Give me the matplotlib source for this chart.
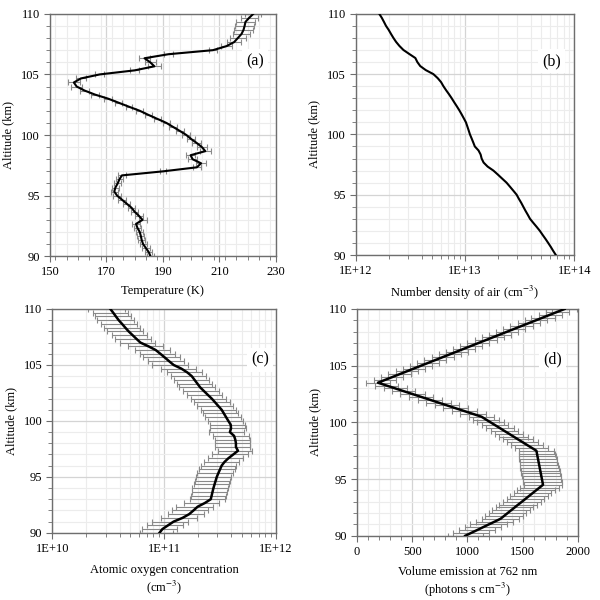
import numpy as np
import matplotlib
matplotlib.use('Agg')
import matplotlib.pyplot as plt
from matplotlib.ticker import MultipleLocator, LogLocator, FuncFormatter, NullFormatter

plt.rcParams['font.family'] = ['Liberation Serif', 'DejaVu Serif']
plt.rcParams['mathtext.fontset'] = 'stix'

# altitude grids (km)
alt = np.linspace(90, 110, 61)        # panels a, b, c
alt_d = np.linspace(90, 110, 81)      # panel d

# (a) temperature (K) and error
temp = [185.6, 185.0, 184.0, 183.0, 182.5, 182.2, 181.8, 181.0, 180.5, 182.8,
        181.5, 180.0, 178.9, 177.2, 175.5, 173.8, 172.8, 173.2, 174.0, 174.6,
        175.5, 190.0, 202.0, 203.5, 200.5, 199.8, 205.0, 203.8, 202.0, 200.0,
        198.3, 196.0, 193.6, 191.2, 188.0, 184.8, 181.8, 178.0, 174.3, 170.6,
        166.0, 162.3, 159.5, 158.5, 161.0, 167.7, 180.0, 187.0, 185.5, 183.5,
        192.0, 207.7, 212.5, 215.2, 216.5, 217.8, 218.5, 218.9, 219.2, 220.5,
        222.0]
temp_err = [1.2, 1.2, 1.3, 1.2, 1.3, 1.2, 1.3, 1.2, 1.3, 1.4,
            1.3, 1.2, 1.3, 1.2, 1.3, 1.4, 1.3, 1.2, 1.3, 1.2,
            1.3, 1.2, 1.5, 1.8, 1.6, 1.7, 1.9, 1.8, 1.6, 1.5,
            1.4, 1.3, 1.3, 1.2, 1.3, 1.2, 1.3, 1.2, 1.3, 1.4,
            1.5, 1.6, 2.0, 2.2, 1.9, 1.6, 1.5, 2.2, 2.0, 1.8,
            1.5, 1.4, 1.8, 2.4, 2.8, 3.0, 3.2, 3.3, 3.2, 3.0,
            2.8]

# (b) number density of air (1E+12 cm^-3)
n_air = [67.9, 64.3, 61.1, 57.8, 54.6, 51.4, 48.5, 45.3, 42.2, 39.4,
         37.6, 35.8, 34.2, 32.7, 31.1, 29.7, 27.7, 25.8, 24.0, 21.9,
         20.0, 18.2, 16.1, 14.8, 14.2, 13.9, 13.3, 12.3, 11.9, 11.5,
         11.1, 10.8, 10.5, 10.2, 9.75, 9.31, 8.87, 8.41, 7.96, 7.55,
         7.13, 6.71, 6.34, 6.04, 5.62, 5.13, 4.37, 3.89, 3.66, 3.51,
         3.09, 2.73, 2.51, 2.34, 2.21, 2.10, 2.00, 1.89, 1.81, 1.73,
         1.64]

# (c) atomic oxygen (1E+11 cm^-3) and error
o_conc = [0.910, 0.966, 1.084, 1.216, 1.462, 1.675, 1.832, 1.995, 2.317, 2.612,
          2.661, 2.710, 2.761, 2.825, 2.891, 2.958, 3.055, 3.162, 3.266, 3.467,
          3.758, 4.150, 4.571, 4.385, 4.385, 4.325, 4.217, 3.873, 3.963, 3.936,
          3.750, 3.581, 3.420, 3.266, 3.048, 2.851, 2.661, 2.455, 2.270, 2.099,
          1.982, 1.871, 1.766, 1.611, 1.429, 1.216, 1.109, 1.014, 0.925, 0.841,
          0.724, 0.614, 0.566, 0.522, 0.482, 0.450, 0.421, 0.393, 0.371, 0.351,
          0.331]
o_err = [0.30, 0.33, 0.38, 0.43, 0.52, 0.60, 0.66, 0.72, 0.80, 0.90,
         0.93, 0.95, 0.97, 0.99, 1.01, 1.04, 1.07, 1.10, 1.14, 1.20,
         1.30, 1.45, 1.55, 1.52, 1.52, 1.50, 1.48, 1.35, 1.38, 1.37,
         1.30, 1.25, 1.20, 1.14, 1.07, 1.00, 0.93, 0.86, 0.80, 0.73,
         0.69, 0.65, 0.62, 0.56, 0.50, 0.43, 0.39, 0.36, 0.32, 0.29,
         0.25, 0.21, 0.20, 0.18, 0.17, 0.16, 0.15, 0.14, 0.13, 0.12,
         0.12]

# (d) volume emission at 762 nm and error
ver = [980, 1033, 1087, 1140, 1193, 1247, 1300,
       1332, 1364, 1396, 1428, 1460, 1493, 1525, 1557, 1589, 1621, 1653, 1685,
       1680, 1675, 1670, 1665, 1660, 1655, 1650, 1645, 1640, 1635, 1630, 1625,
       1584, 1542, 1501, 1459, 1418, 1377, 1335, 1294, 1252, 1211, 1169, 1128,
       1050, 972, 893, 815, 737, 659, 581, 503, 424, 346, 268, 190,
       255, 320, 385, 450, 515, 580, 645, 710, 775, 840, 905, 970, 1035, 1100,
       1165, 1230, 1295, 1360, 1425, 1490, 1555, 1620, 1685, 1750, 1815, 1880]
ver_err = [160, 160, 165, 165, 170, 170, 170,
           170, 170, 170, 170, 170, 170, 170, 170, 170, 175, 175, 175,
           175, 175, 175, 175, 175, 175, 175, 170, 170, 170, 165, 160,
           150, 145, 140, 135, 130, 130, 125, 125, 120, 120, 120, 115,
           115, 115, 110, 110, 110, 110, 110, 110, 105, 105, 105, 105,
           100, 100, 100, 100, 100, 100, 100, 100, 100, 100, 100, 100, 100, 100,
           100, 100, 100, 100, 100, 100, 100, 100, 105, 105, 105, 110]

GRID_MAJOR = '#d4d4d4'
GRID_MINOR = '#ececec'
SPINE = '#6e6e6e'
ERR_COLOR = '#8a8a8a'
FS = 9


def style_axes(ax, label, lx, ly):
    ax.set_ylim(90, 110)
    ax.yaxis.set_major_locator(MultipleLocator(5))
    ax.yaxis.set_minor_locator(MultipleLocator(1))
    ax.grid(True, which='major', color=GRID_MAJOR, lw=0.9, zorder=0)
    ax.grid(True, which='minor', color=GRID_MINOR, lw=0.8, zorder=0)
    ax.set_axisbelow(True)
    for sp in ax.spines.values():
        sp.set_color(SPINE)
        sp.set_linewidth(1.0)
    ax.tick_params(which='both', direction='out', color=SPINE, labelsize=FS,
                   top=False, right=False, pad=3)
    ax.tick_params(which='major', length=4)
    ax.tick_params(which='minor', length=3)
    ax.set_ylabel('Altitude (km)', fontsize=FS, labelpad=5)
    ax.text(lx, ly, label, transform=ax.transAxes, fontsize=11.5,
            ha='center', va='center',
            bbox=dict(fc='white', ec='none', pad=3), zorder=5)


def log_style(ax, lo, hi):
    ax.set_xscale('log')
    ax.set_xlim(lo, hi)
    ax.xaxis.set_major_locator(LogLocator(base=10, numticks=10))
    ax.xaxis.set_minor_locator(LogLocator(base=10, subs=np.arange(2, 10), numticks=20))
    ax.xaxis.set_minor_formatter(NullFormatter())
    ax.xaxis.set_major_formatter(
        FuncFormatter(lambda v, p: '1E+%d' % int(round(np.log10(v)))))


fig = plt.figure(figsize=(6, 6), dpi=100)

# (a) temperature
ax_a = fig.add_axes([0.083, 0.573, 0.377, 0.404])
ax_a.errorbar(temp, alt, xerr=temp_err, fmt='none', ecolor=ERR_COLOR,
              elinewidth=0.8, capsize=2, capthick=0.8, zorder=2)
ax_a.plot(temp, alt, color='black', lw=1.5, zorder=3)
ax_a.set_xlim(150, 230)
ax_a.set_xticks(np.arange(150, 231, 20))
ax_a.xaxis.set_minor_locator(MultipleLocator(4))
style_axes(ax_a, '(a)', 0.906, 0.803)
ax_a.set_xlabel('Temperature (K)', fontsize=FS, labelpad=5)

# (b) air density
ax_b = fig.add_axes([0.593, 0.575, 0.364, 0.402])
ax_b.plot(np.array(n_air) * 1e12, alt, color='black', lw=1.5, zorder=3)
log_style(ax_b, 1e12, 1e14)
style_axes(ax_b, '(b)', 0.896, 0.803)
ax_b.set_xlabel('Number density of air (cm$^{-3}$)', fontsize=FS, labelpad=5)

# (c) atomic oxygen
ax_c = fig.add_axes([0.087, 0.112, 0.373, 0.373])
o_vals = np.array(o_conc) * 1e11
o_errs = np.array(o_err) * 1e11
ax_c.errorbar(o_vals, alt, xerr=o_errs, fmt='none', ecolor=ERR_COLOR,
              elinewidth=0.8, capsize=2, capthick=0.8, zorder=2)
ax_c.plot(o_vals, alt, color='black', lw=1.8, zorder=3)
log_style(ax_c, 1e10, 1e12)
style_axes(ax_c, '(c)', 0.929, 0.773)
ax_c.set_xlabel('Atomic oxygen concentration\n(cm$^{-3}$)', fontsize=FS,
                labelpad=7, linespacing=1.2)

# (d) volume emission
ax_d = fig.add_axes([0.595, 0.107, 0.368, 0.378])
ax_d.errorbar(ver, alt_d, xerr=ver_err, fmt='none', ecolor=ERR_COLOR,
              elinewidth=0.8, capsize=2, capthick=0.8, zorder=2)
ax_d.plot(ver, alt_d, color='black', lw=1.8, zorder=3)
ax_d.set_xlim(0, 2000)
ax_d.xaxis.set_major_locator(MultipleLocator(500))
ax_d.xaxis.set_minor_locator(MultipleLocator(100))
style_axes(ax_d, '(d)', 0.887, 0.776)
ax_d.set_xlabel('Volume emission at 762 nm\n(photons s cm$^{-3}$)', fontsize=FS,
                labelpad=6, linespacing=1.2)

fig.savefig('out.png', dpi=100)
